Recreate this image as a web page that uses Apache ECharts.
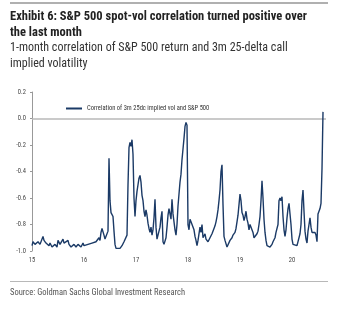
<!DOCTYPE html>
<html>
<head>
<meta charset="utf-8">
<script src="https://cdn.jsdelivr.net/npm/echarts@6/dist/echarts.min.js"></script>
<style>html,body{margin:0;padding:0;background:#fff}#c{width:350px;height:330px}</style>
</head>
<body>
<div id="c"></div>
<script>
// weeks since start of 2015
var weeks = [0,1,3,5,6,8,9,11,12,14,15,17,18,20,21,23,25,26,28,30,31,32,34,36,37,39,40,42,44,46,47,49,51,52,
54,56,58,60,62,64,65,67,68,69,70,71,72,73,75,76,77,78,79,80,81,82,83,84,86,88,90,92,94,95,96,97,98,99,100,101,
102,103,104,105,106,107,108,109,110,111,112,113,114,115,116,117,118,119,120,121,122,123,124,125,126,128,129,130,
131,132,134,135,136,137,138,139,140,141,143,144,145,146,147,148,149,150,151,152,153,154,155,156,157,158,159,160,
161,162,163,164,165,166,168,169,170,171,173,174,176,178,180,182,183,184,185,186,187,188,189,190,191,192,193,195,
197,198,200,201,203,204,205,206,207,208,209,210,211,212,213,214,215,216,217,218,219,220,221,222,224,225,226,227,
228,229,230,231,232,233,234,235,236,238,240,241,242,243,244,245,246,247,248,249,250,251,252,253,254,255,256,257,
258,259,260,261,263,265,266,268,269,270,271,272,273,274,275,276,277,278,279,280,281,283,284,285,286,287,288,289,290,291];
var corr = [-0.96,-0.93,-0.95,-0.96,-0.93,-0.95,-0.96,-0.89,-0.92,-0.94,-0.93,-0.96,-0.94,-0.97,-0.96,-0.95,-0.97,-0.92,-0.95,-0.94,-0.91,-0.94,-0.93,-0.92,-0.95,-0.97,-0.96,-0.95,-0.97,-0.95,-0.96,-0.97,-0.94,-0.96,
-0.95,-0.95,-0.96,-0.94,-0.95,-0.93,-0.94,-0.90,-0.92,-0.86,-0.83,-0.82,-0.88,-0.91,-0.90,-0.85,-0.30,-0.62,-0.71,-0.70,-0.74,-0.85,-0.95,-0.98,-0.99,-0.98,-0.96,-0.93,-0.92,-0.88,-0.50,-0.22,-0.18,-0.21,-0.16,-0.27,
-0.60,-0.74,-0.62,-0.55,-0.50,-0.45,-0.43,-0.48,-0.58,-0.62,-0.70,-0.74,-0.69,-0.73,-0.79,-0.83,-0.86,-0.82,-0.88,-0.84,-0.75,-0.61,-0.82,-0.91,-0.88,-0.82,-0.75,-0.70,
-0.93,-0.95,-0.90,-0.82,-0.73,-0.68,-0.72,-0.76,-0.61,-0.72,-0.84,-0.88,-0.80,-0.66,-0.57,-0.48,-0.42,-0.31,-0.23,-0.15,-0.06,-0.03,-0.05,-0.80,-0.84,-0.76,-0.78,-0.79,
-0.77,-0.84,-0.89,-0.92,-0.96,-0.92,-0.82,-0.86,-0.80,-0.90,-0.87,-0.91,-0.93,-0.90,-0.87,-0.83,-0.81,-0.78,-0.74,-0.69,-0.62,-0.54,-0.40,-0.35,-0.65,-0.89,-0.92,-0.97,
-0.96,-0.92,-0.90,-0.88,-0.86,-0.83,-0.78,-0.73,-0.65,-0.57,-0.62,-0.71,-0.73,-0.77,-0.74,-0.70,-0.76,-0.79,-0.84,-0.80,-0.81,-0.79,-0.86,-0.90,-0.89,-0.87,-0.85,-0.80,
-0.74,-0.62,-0.47,-0.60,-0.76,-0.86,-0.92,-0.96,-0.97,-0.97,-0.95,-0.93,-0.92,-0.90,-0.86,-0.87,-0.80,-0.62,-0.60,-0.62,-0.59,-0.74,-0.84,-0.89,-0.84,-0.75,-0.68,-0.64,
-0.63,-0.80,-0.91,-0.95,-0.96,-0.96,-0.95,-0.87,-0.80,-0.62,-0.54,-0.70,-0.85,-0.91,-0.94,-0.85,-0.80,-0.75,-0.82,-0.86,-0.85,-0.86,-0.88,-0.93,-0.72,-0.70,-0.68,-0.64,-0.38,0.05];
var yearLabels = ['15','16','17','18','19','20'];
var seriesName = 'Correlation of 3m 25dc implied vol and S&P 500';
var titleLines = ['Exhibit 6: S&P 500 spot-vol correlation turned positive over', 'the last month'];
var subtitleLines = ['1-month correlation of S&P 500 return and 3m 25-delta call', 'implied volatility'];
var sourceText = 'Source: Goldman Sachs Global Investment Research';

var NARROW = "'Liberation Sans Narrow','Arial Narrow','Roboto Condensed',sans-serif";
var points = weeks.map(function (w, i) { return [w, corr[i]]; });
var chart = echarts.init(document.getElementById('c'), null, {renderer: 'canvas'});
chart.setOption({
  animation: false,
  backgroundColor: '#fff',
  grid: {left: 32, right: 24, top: 92, bottom: 79},
  legend: {
    left: 61, top: 100, icon: 'rect', itemWidth: 16, itemHeight: 2, itemGap: 4,
    textStyle: {fontFamily: NARROW, fontSize: 6.5, color: '#333'},
    data: [seriesName]
  },
  xAxis: {
    type: 'value', min: 0, max: 294, interval: 52,
    axisLine: {show: false}, axisTick: {show: false}, splitLine: {show: false},
    axisLabel: {fontFamily: NARROW, fontSize: 6.5, color: '#444', margin: 6,
      formatter: function (v) { return yearLabels[Math.round(v / 52)] || ''; }}
  },
  yAxis: {
    type: 'value', min: -1.0, max: 0.2, interval: 0.2,
    axisLine: {show: true, lineStyle: {color: '#999'}},
    axisTick: {show: true, length: 2, lineStyle: {color: '#999'}},
    splitLine: {show: false},
    axisLabel: {fontFamily: NARROW, fontSize: 6.5, color: '#444', margin: 6,
      formatter: function (v) { return v.toFixed(1); }}
  },
  series: [{
    name: seriesName, type: 'line', data: points, z: 3,
    showSymbol: false, symbol: 'none',
    lineStyle: {color: '#1b3a66', width: 1.4},
    itemStyle: {color: '#1b3a66'},
    markLine: {
      silent: true, symbol: 'none', label: {show: false}, z: 1,
      lineStyle: {color: '#b8b8b8', width: 1.5, type: 'solid'},
      data: [{yAxis: 0}]
    }
  }],
  graphic: [
    {type: 'rect', left: 10, top: 2, shape: {width: 318, height: 2}, style: {fill: '#b0b0b0'}},
    {type: 'text', left: 10, top: 10, style: {text: titleLines[0], fontFamily: NARROW, fontWeight: 'bold', fontSize: 12.5, fill: '#222'}},
    {type: 'text', left: 10, top: 26, style: {text: titleLines[1], fontFamily: NARROW, fontWeight: 'bold', fontSize: 12.5, fill: '#222'}},
    {type: 'text', left: 10, top: 42, style: {text: subtitleLines[0], fontFamily: NARROW, fontSize: 12, fill: '#333'}},
    {type: 'text', left: 10, top: 58, style: {text: subtitleLines[1], fontFamily: NARROW, fontSize: 12, fill: '#333'}},
    {type: 'rect', left: 10, top: 281, shape: {width: 318, height: 1}, style: {fill: '#b8b8b8'}},
    {type: 'text', left: 10, top: 288, style: {text: sourceText, fontFamily: NARROW, fontSize: 8.5, fill: '#555'}}
  ]
});
</script>
</body>
</html>
